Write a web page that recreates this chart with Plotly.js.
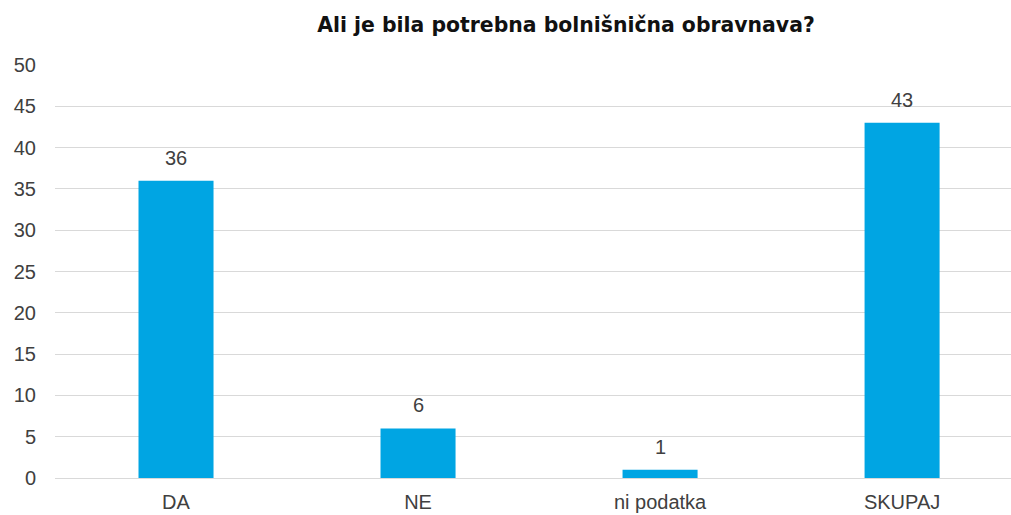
<!DOCTYPE html>
<html>
<head>
<meta charset="utf-8">
<script src="https://cdn.plot.ly/plotly-3.0.1.min.js"></script>
<style>html,body{margin:0;padding:0;background:#fff;}#chart{width:1011px;height:515px;}</style>
</head>
<body>
<div id="chart"></div>
<script>
var categories = ["DA", "NE", "ni podatka", "SKUPAJ"];
var values = [36, 6, 1, 43];
var yTicks = [0, 5, 10, 15, 20, 25, 30, 35, 40, 45, 50];

var labelFont = {family: "Liberation Sans, Arial, sans-serif", size: 20, color: "#404040"};

var trace = {
  type: "bar",
  x: categories,
  y: values,
  marker: {color: "#00A5E3"},
  width: 0.31,
  hoverinfo: "x+y"
};

var annotations = categories.map(function (c, i) {
  return {
    x: c,
    y: values[i],
    xref: "x",
    yref: "y",
    text: String(values[i]),
    showarrow: false,
    xanchor: "center",
    yanchor: "middle",
    yshift: 23,
    font: labelFont
  };
});

var layout = {
  width: 1011,
  height: 515,
  margin: {l: 55, r: 0, t: 65, b: 37},
  paper_bgcolor: "#ffffff",
  plot_bgcolor: "#ffffff",
  showlegend: false,
  title: {
    text: "<b>Ali je bila potrebna bolnišnična obravnava?</b>",
    font: {family: "DejaVu Sans, sans-serif", size: 20.4, color: "#111111"},
    x: 566 / 1011,
    xref: "container",
    xanchor: "center",
    y: 1 - 25 / 515,
    yref: "container",
    yanchor: "middle"
  },
  annotations: annotations,
  xaxis: {
    type: "category",
    range: [-0.5, 3.45],
    showgrid: false,
    zeroline: false,
    showline: false,
    ticks: "",
    ticklabelstandoff: 10,
    tickfont: labelFont,
    fixedrange: true
  },
  yaxis: {
    range: [0, 50],
    tickvals: yTicks,
    ticktext: yTicks.map(String),
    showgrid: true,
    gridcolor: "#d9d9d9",
    gridwidth: 1,
    zeroline: true,
    zerolinecolor: "#d9d9d9",
    zerolinewidth: 1,
    showline: false,
    ticks: "",
    ticklabelstandoff: 18,
    tickfont: labelFont,
    fixedrange: true
  },
  bargap: 0.69
};

Plotly.newPlot("chart", [trace], layout, {displayModeBar: false, staticPlot: true});
</script>
</body>
</html>
